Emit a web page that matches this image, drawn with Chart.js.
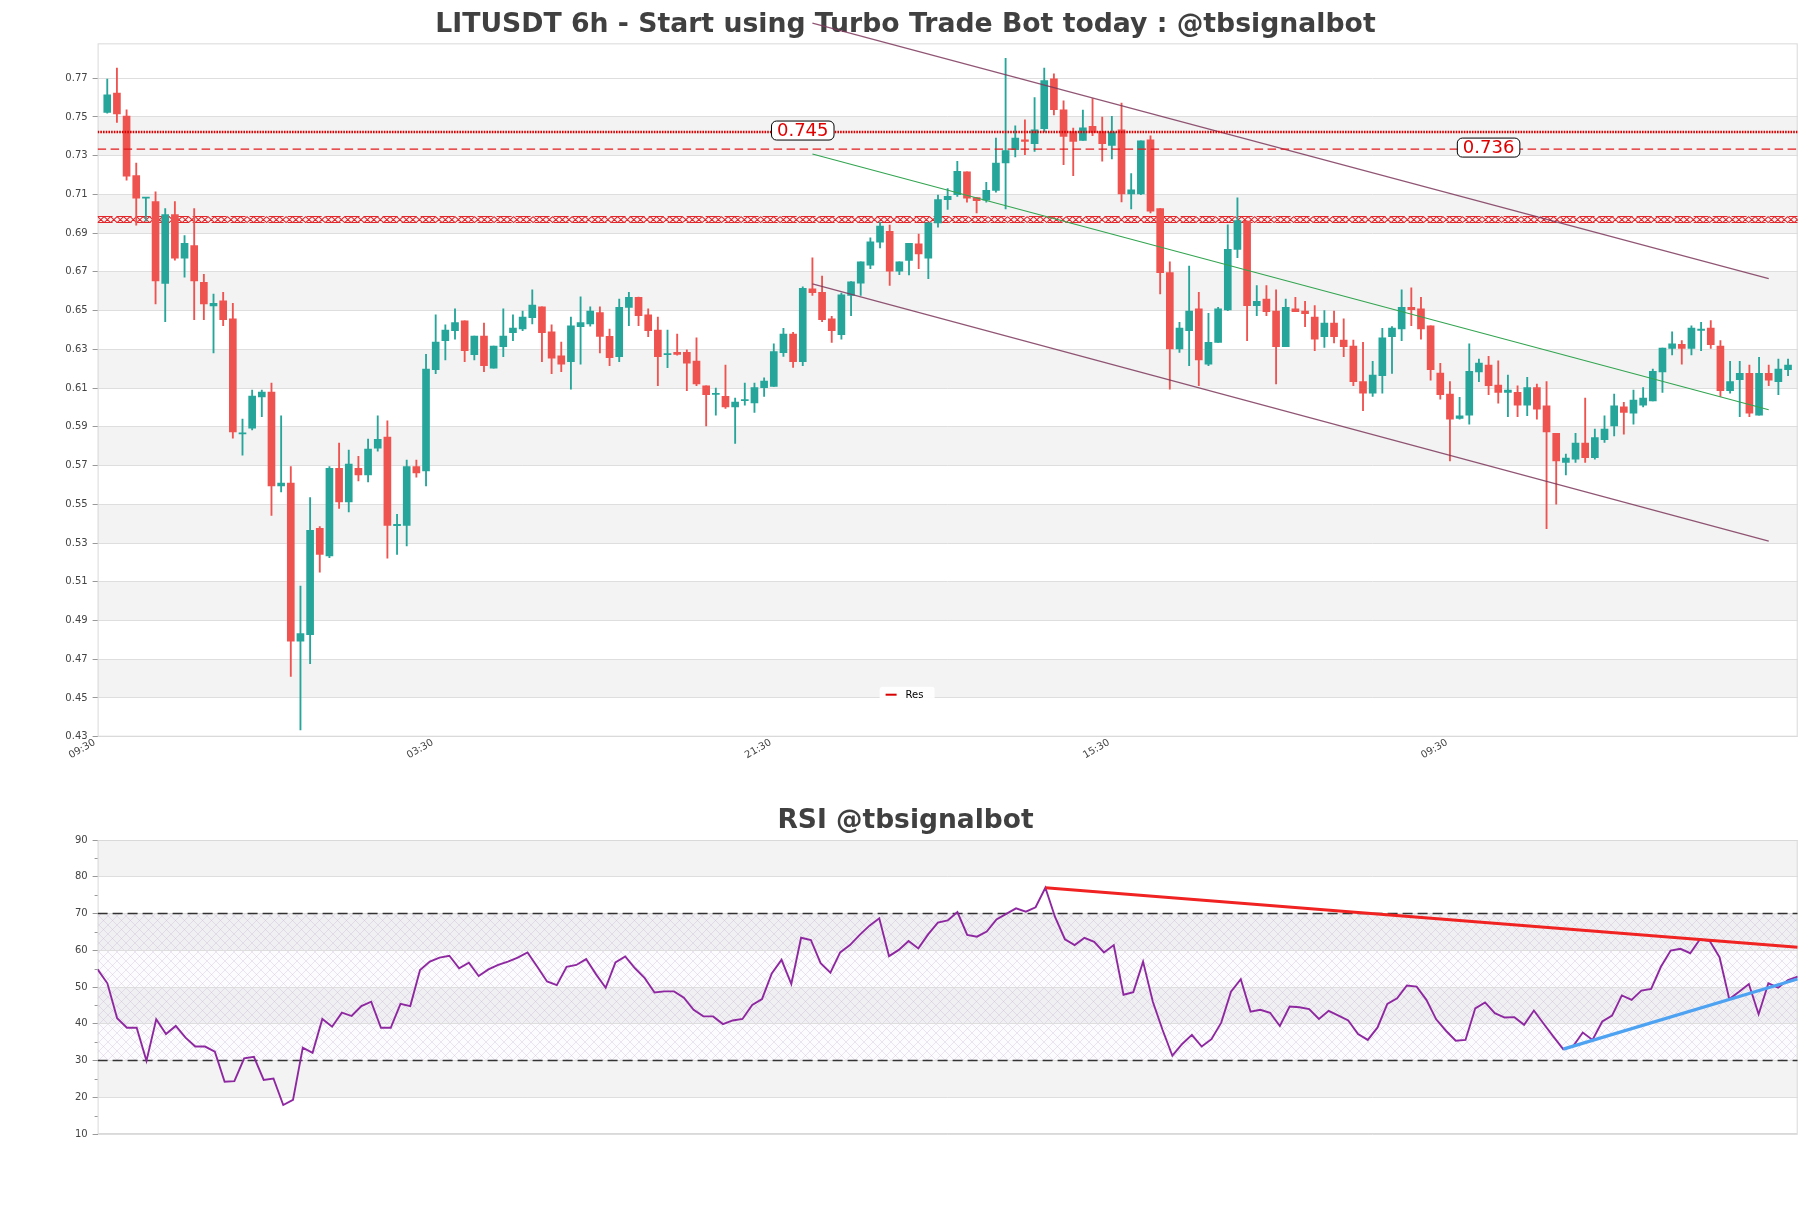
<!DOCTYPE html>
<html>
<head>
<meta charset="utf-8">
<title>LITUSDT 6h</title>
<script src="https://cdn.jsdelivr.net/npm/chart.js@4.4.1/dist/chart.umd.min.js"></script>
<style>
  html, body { margin: 0; padding: 0; background: #fff; }
  #wrap { position: relative; width: 1811px; height: 1208px; }
  #price { position: absolute; left: 0; top: 0; }
  #rsi { position: absolute; left: 0; top: 790px; }
</style>
</head>
<body>
<div id="wrap">
  <canvas id="price" width="1811" height="800"></canvas>
  <canvas id="rsi" width="1811" height="418"></canvas>
</div>
<script>
// ---- candles (6h) ----
const openPrices = [
  0.7523, 0.7623, 0.7504, 0.7197, 0.7080, 0.7063, 0.6641, 0.6996, 0.6771, 0.6836,
  0.6646, 0.6524, 0.6550, 0.6457, 0.5863, 0.5893, 0.6055, 0.6079, 0.5595, 0.5609,
  0.4793, 0.4827, 0.5376, 0.5233, 0.5686, 0.5512, 0.5686, 0.5652, 0.5790, 0.5847,
  0.5390, 0.5391, 0.5695, 0.5672, 0.6195, 0.6345, 0.6397, 0.6447, 0.6272, 0.6369,
  0.6203, 0.6314, 0.6386, 0.6405, 0.6464, 0.6519, 0.6390, 0.6266, 0.6236, 0.6417,
  0.6431, 0.6490, 0.6367, 0.6262, 0.6516, 0.6569, 0.6478, 0.6400, 0.6272, 0.6285,
  0.6285, 0.6240, 0.6112, 0.6067, 0.6057, 0.6003, 0.6035, 0.6024, 0.6102, 0.6109,
  0.6283, 0.6379, 0.6236, 0.6613, 0.6595, 0.6457, 0.6376, 0.6578, 0.6642, 0.6735,
  0.6853, 0.6910, 0.6704, 0.6759, 0.6845, 0.6771, 0.6953, 0.7073, 0.7099, 0.7216,
  0.7084, 0.7070, 0.7121, 0.7262, 0.7331, 0.7382, 0.7362, 0.7439, 0.7697, 0.7537,
  0.7425, 0.7379, 0.7451, 0.7425, 0.7353, 0.7434, 0.7102, 0.7102, 0.7382, 0.7027,
  0.6696, 0.6302, 0.6397, 0.6509, 0.6224, 0.6336, 0.6503, 0.6816, 0.6962, 0.6526,
  0.6560, 0.6497, 0.6314, 0.6509, 0.6497, 0.6466, 0.6366, 0.6436, 0.6348, 0.6317,
  0.6134, 0.6074, 0.6164, 0.6366, 0.6405, 0.6517, 0.6509, 0.6421, 0.6178, 0.6069,
  0.5943, 0.5960, 0.6184, 0.6219, 0.6116, 0.6078, 0.6078, 0.6012, 0.6103, 0.6009,
  0.5867, 0.5716, 0.5733, 0.5816, 0.5741, 0.5833, 0.5905, 0.6003, 0.5971, 0.6012,
  0.6034, 0.6184, 0.6305, 0.6326, 0.6305, 0.6398, 0.6410, 0.6317, 0.6086, 0.6143,
  0.6176, 0.5960, 0.6176, 0.6133, 0.6195
];
const highPrices = [
  0.7695, 0.7752, 0.7537, 0.7262, 0.7085, 0.7113, 0.7027, 0.7063, 0.6888, 0.7027,
  0.6687, 0.6586, 0.6595, 0.6538, 0.5940, 0.6090, 0.6090, 0.6126, 0.5957, 0.5695,
  0.5078, 0.5535, 0.5385, 0.5695, 0.5816, 0.5780, 0.5748, 0.5837, 0.5957, 0.5931,
  0.5448, 0.5728, 0.5728, 0.6274, 0.6478, 0.6426, 0.6509, 0.6447, 0.6369, 0.6436,
  0.6317, 0.6509, 0.6478, 0.6498, 0.6607, 0.6520, 0.6426, 0.6338, 0.6467, 0.6571,
  0.6520, 0.6519, 0.6405, 0.6560, 0.6595, 0.6570, 0.6509, 0.6466, 0.6400, 0.6379,
  0.6298, 0.6359, 0.6112, 0.6100, 0.6219, 0.6048, 0.6126, 0.6126, 0.6153, 0.6328,
  0.6409, 0.6388, 0.6623, 0.6773, 0.6678, 0.6470, 0.6590, 0.6650, 0.6752, 0.6876,
  0.6957, 0.6941, 0.6752, 0.6847, 0.6895, 0.6953, 0.7096, 0.7130, 0.7271, 0.7216,
  0.7084, 0.7163, 0.7391, 0.7803, 0.7454, 0.7485, 0.7600, 0.7752, 0.7722, 0.7583,
  0.7442, 0.7535, 0.7595, 0.7499, 0.7503, 0.7571, 0.7207, 0.7377, 0.7403, 0.7027,
  0.6752, 0.6440, 0.6730, 0.6595, 0.6486, 0.6517, 0.6943, 0.7082, 0.6962, 0.6629,
  0.6629, 0.6607, 0.6560, 0.6569, 0.6548, 0.6526, 0.6500, 0.6497, 0.6457, 0.6348,
  0.6336, 0.6238, 0.6409, 0.6417, 0.6607, 0.6617, 0.6569, 0.6421, 0.6228, 0.6134,
  0.6052, 0.6328, 0.6250, 0.6264, 0.6241, 0.6167, 0.6112, 0.6155, 0.6121, 0.6134,
  0.5867, 0.5759, 0.5867, 0.6048, 0.5888, 0.5957, 0.6069, 0.6026, 0.6090, 0.6103,
  0.6198, 0.6307, 0.6391, 0.6345, 0.6422, 0.6440, 0.6448, 0.6345, 0.6238, 0.6238,
  0.6219, 0.6259, 0.6219, 0.6250, 0.6250
];
const lowPrices = [
  0.7520, 0.7472, 0.7173, 0.6941, 0.6962, 0.6534, 0.6443, 0.6760, 0.6673, 0.6453,
  0.6453, 0.6281, 0.6422, 0.5841, 0.5754, 0.5884, 0.5952, 0.5443, 0.5564, 0.4611,
  0.4335, 0.4677, 0.5150, 0.5224, 0.5479, 0.5460, 0.5621, 0.5616, 0.5774, 0.5222,
  0.5241, 0.5285, 0.5640, 0.5595, 0.6174, 0.6245, 0.6353, 0.6236, 0.6245, 0.6185,
  0.6203, 0.6262, 0.6345, 0.6397, 0.6431, 0.6236, 0.6174, 0.6185, 0.6095, 0.6224,
  0.6420, 0.6281, 0.6216, 0.6236, 0.6422, 0.6422, 0.6366, 0.6112, 0.6205, 0.6270,
  0.6086, 0.6112, 0.5905, 0.5960, 0.5995, 0.5814, 0.6012, 0.5974, 0.6057, 0.6109,
  0.6264, 0.6207, 0.6216, 0.6578, 0.6443, 0.6336, 0.6353, 0.6474, 0.6578, 0.6716,
  0.6824, 0.6630, 0.6685, 0.6684, 0.6716, 0.6665, 0.6931, 0.7022, 0.7090, 0.7060,
  0.7005, 0.7060, 0.7111, 0.7025, 0.7293, 0.7305, 0.7322, 0.7422, 0.7511, 0.7254,
  0.7197, 0.7379, 0.7403, 0.7271, 0.7283, 0.7061, 0.7025, 0.7099, 0.7005, 0.6586,
  0.6095, 0.6284, 0.6216, 0.6112, 0.6216, 0.6336, 0.6500, 0.6773, 0.6345, 0.6474,
  0.6474, 0.6121, 0.6314, 0.6495, 0.6417, 0.6293, 0.6310, 0.6333, 0.6262, 0.6112,
  0.5983, 0.6057, 0.6074, 0.6176, 0.6345, 0.6422, 0.6353, 0.6141, 0.6043, 0.5724,
  0.5940, 0.5914, 0.6133, 0.6066, 0.6022, 0.5952, 0.5952, 0.5957, 0.5940, 0.5374,
  0.5500, 0.5652, 0.5716, 0.5716, 0.5733, 0.5819, 0.5853, 0.5862, 0.5914, 0.6003,
  0.6034, 0.6078, 0.6271, 0.6224, 0.6271, 0.6293, 0.6305, 0.6057, 0.6074, 0.5953,
  0.5953, 0.5960, 0.6112, 0.6066, 0.6164
];
const closePrices = [
  0.7614, 0.7515, 0.7194, 0.7080, 0.7083, 0.6653, 0.6996, 0.6771, 0.6847, 0.6653,
  0.6534, 0.6538, 0.6453, 0.5874, 0.5868, 0.6059, 0.6079, 0.5595, 0.5609, 0.4793,
  0.4832, 0.5366, 0.5241, 0.5686, 0.5512, 0.5707, 0.5652, 0.5785, 0.5836, 0.5391,
  0.5393, 0.5695, 0.5662, 0.6198, 0.6338, 0.6400, 0.6438, 0.6293, 0.6369, 0.6216,
  0.6317, 0.6369, 0.6410, 0.6467, 0.6529, 0.6386, 0.6255, 0.6224, 0.6421, 0.6438,
  0.6498, 0.6367, 0.6257, 0.6517, 0.6569, 0.6474, 0.6397, 0.6262, 0.6276, 0.6274,
  0.6228, 0.6121, 0.6066, 0.6069, 0.6003, 0.6028, 0.6037, 0.6103, 0.6136, 0.6288,
  0.6379, 0.6236, 0.6615, 0.6593, 0.6453, 0.6397, 0.6581, 0.6648, 0.6752, 0.6855,
  0.6936, 0.6704, 0.6752, 0.6847, 0.6793, 0.6953, 0.7073, 0.7090, 0.7219, 0.7080,
  0.7068, 0.7121, 0.7262, 0.7326, 0.7391, 0.7374, 0.7434, 0.7688, 0.7537, 0.7400,
  0.7374, 0.7444, 0.7420, 0.7362, 0.7422, 0.7102, 0.7123, 0.7377, 0.7013, 0.6696,
  0.6302, 0.6410, 0.6497, 0.6245, 0.6336, 0.6509, 0.6816, 0.6965, 0.6526, 0.6548,
  0.6495, 0.6314, 0.6517, 0.6495, 0.6484, 0.6353, 0.6436, 0.6366, 0.6314, 0.6133,
  0.6074, 0.6167, 0.6359, 0.6410, 0.6517, 0.6505, 0.6405, 0.6195, 0.6066, 0.5940,
  0.5957, 0.6186, 0.6229, 0.6112, 0.6078, 0.6090, 0.6012, 0.6103, 0.5991, 0.5874,
  0.5724, 0.5738, 0.5816, 0.5741, 0.5845, 0.5888, 0.6009, 0.5974, 0.6038, 0.6048,
  0.6186, 0.6307, 0.6328, 0.6305, 0.6410, 0.6402, 0.6324, 0.6086, 0.6134, 0.6176,
  0.5971, 0.6176, 0.6141, 0.6198, 0.6219
];

// ---- RSI ----
const rsiValues = [
  54.8, 51.0, 41.5, 38.9, 38.9, 29.9, 41.2, 37.2, 39.4, 36.2,
  33.8, 33.8, 32.4, 24.2, 24.4, 30.6, 31.0, 24.7, 25.1, 17.9,
  19.3, 33.5, 32.1, 41.3, 39.2, 43.0, 42.1, 44.8, 46.0, 38.9,
  38.9, 45.4, 44.8, 54.6, 56.9, 58.0, 58.5, 55.1, 56.6, 53.0,
  54.8, 56.0, 56.9, 58.0, 59.4, 55.5, 51.5, 50.5, 55.5, 56.0,
  57.6, 53.5, 49.8, 56.7, 58.3, 55.1, 52.4, 48.5, 48.8, 48.8,
  47.1, 43.8, 42.0, 42.0, 39.9, 40.9, 41.3, 45.1, 46.7, 53.7,
  57.4, 50.8, 63.4, 62.8, 56.5, 53.9, 59.4, 61.4, 64.2, 66.7,
  68.7, 58.4, 60.1, 62.5, 60.5, 64.3, 67.5, 68.1, 70.4, 64.2,
  63.7, 65.1, 68.4, 69.9, 71.4, 70.5, 71.7, 77.0, 69.0, 63.0,
  61.4, 63.4, 62.3, 59.4, 61.4, 47.9, 48.6, 56.9, 46.0, 38.3,
  31.3, 34.5, 37.0, 33.8, 35.8, 40.3, 48.7, 52.1, 43.3, 43.8,
  43.0, 39.4, 44.7, 44.5, 44.0, 41.3, 43.5, 42.2, 40.9, 37.2,
  35.6, 39.0, 45.4, 46.9, 50.4, 50.1, 46.5, 41.2, 38.1, 35.4,
  35.6, 44.2, 45.8, 42.9, 41.7, 41.8, 39.7, 43.6, 40.0, 36.5,
  33.1, 33.8, 37.6, 35.6, 40.6, 42.2, 47.7, 46.5, 49.0, 49.5,
  55.5, 59.9, 60.4, 59.2, 63.0, 62.5, 58.1, 46.7, 48.7, 50.8,
  42.6, 51.0, 49.8, 51.9, 52.8
];

// ---- axes ----
const priceTicks = [0.43, 0.45, 0.47, 0.49, 0.51, 0.53, 0.55, 0.57, 0.59, 0.61,
                    0.63, 0.65, 0.67, 0.69, 0.71, 0.73, 0.75, 0.77];
const rsiTicks = [10, 20, 30, 40, 50, 60, 70, 80, 90];
const timeTickIndex = [-1, 34, 69, 104, 139];
const timeTickLabels = ['09:30', '03:30', '21:30', '15:30', '09:30'];

// ---- levels and trend lines ([candle index, value]) ----
const resLevel = 0.7422, resText = '0.745';
const supLevel = 0.7334, supText = '0.736';
const zoneLevel = 0.697;
const channelTop = [[73, 0.7984], [172, 0.6665]];
const channelBottom = [[73, 0.6638], [172, 0.5310]];
const channelMid = [[73, 0.7309], [172, 0.5988]];
const rsiOverbought = 70, rsiOversold = 30;
const rsiFallingLine = [[97, 77.0], [174, 60.8]];
const rsiRisingLine = [[150, 33.1], [174, 52.2]];

const N = closePrices.length;
const idx = closePrices.map((_, i) => i);
const UP = '#26a69a', DOWN = '#ef5350';
const candleColors = idx.map(i => closePrices[i] >= openPrices[i] ? UP : DOWN);
const FONT = "'DejaVu Sans', 'Liberation Sans', sans-serif";
const toPoints = pairs => pairs.map(p => ({ x: p[0], y: p[1] }));

// grey bands between every other gridline
function drawBands(chart, ticks) {
  const { ctx, chartArea: ca, scales: { y } } = chart;
  ctx.save();
  ctx.fillStyle = '#f3f3f3';
  for (let i = 1; i < ticks.length - 1; i += 2) {
    const top = y.getPixelForValue(ticks[i + 1]);
    const bot = y.getPixelForValue(ticks[i]);
    ctx.fillRect(ca.left, top, ca.right - ca.left, bot - top);
  }
  ctx.restore();
}

function drawFrame(chart) {
  const { ctx, chartArea: ca } = chart;
  ctx.save();
  ctx.strokeStyle = '#d9d9d9';
  ctx.lineWidth = 1;
  ctx.strokeRect(ca.left + 0.5, ca.top + 0.5, ca.right - ca.left - 1, ca.bottom - ca.top - 1);
  ctx.restore();
}

// red hatched zone line
function drawZone(chart, level) {
  const { ctx, chartArea: ca, scales: { y } } = chart;
  const yc = y.getPixelForValue(level), h = 3, step = 6.5;
  ctx.save();
  ctx.beginPath();
  ctx.rect(ca.left, ca.top, ca.right - ca.left, ca.bottom - ca.top);
  ctx.clip();
  ctx.strokeStyle = '#e3262a';
  ctx.lineWidth = 1.05;
  ctx.beginPath();
  for (let x = ca.left; x < ca.right; x += step) {
    ctx.moveTo(x, yc - h); ctx.lineTo(x + step, yc + h);
    ctx.moveTo(x, yc + h); ctx.lineTo(x + step, yc - h);
  }
  ctx.stroke();
  ctx.setLineDash([15, 4]);
  ctx.beginPath();
  ctx.moveTo(ca.left, yc - h); ctx.lineTo(ca.right, yc - h);
  ctx.moveTo(ca.left, yc + h); ctx.lineTo(ca.right, yc + h);
  ctx.stroke();
  ctx.restore();
}

function drawTag(chart, xVal, level, text) {
  const { ctx, scales: { x, y } } = chart;
  const cx = x.getPixelForValue(xVal), cy = y.getPixelForValue(level) - 1.5;
  ctx.save();
  ctx.font = '18px ' + FONT;
  const w = ctx.measureText(text).width + 11, h = 19;
  ctx.beginPath();
  ctx.roundRect(cx - w / 2, cy - h / 2, w, h, 5);
  ctx.fillStyle = '#fff';
  ctx.fill();
  ctx.strokeStyle = '#000';
  ctx.lineWidth = 1;
  ctx.stroke();
  ctx.fillStyle = '#e00000';
  ctx.textAlign = 'center';
  ctx.textBaseline = 'middle';
  ctx.fillText(text, cx, cy + 1);
  ctx.restore();
}

function drawLegend(chart) {
  const { ctx, chartArea: ca } = chart;
  const ds = chart.data.datasets.find(d => d.showInLegend);
  const lx = ca.left + 782, ly = ca.bottom - 50;
  ctx.save();
  ctx.fillStyle = 'rgba(255,255,255,0.9)';
  ctx.beginPath();
  ctx.roundRect(lx, ly, 55, 16, 3);
  ctx.fill();
  ctx.strokeStyle = ds.borderColor;
  ctx.lineWidth = 2;
  ctx.beginPath();
  ctx.moveTo(lx + 6, ly + 8); ctx.lineTo(lx + 17, ly + 8);
  ctx.stroke();
  ctx.fillStyle = '#000';
  ctx.font = '10px ' + FONT;
  ctx.textBaseline = 'middle';
  ctx.fillText(ds.label, lx + 26, ly + 8.5);
  ctx.restore();
}

const priceDecor = {
  id: 'priceDecor',
  beforeDraw(chart) { drawBands(chart, priceTicks); },
  beforeDatasetsDraw(chart) { drawFrame(chart); drawZone(chart, zoneLevel); },
  afterDatasetsDraw(chart) {
    drawTag(chart, 72, resLevel, resText);
    drawTag(chart, 143, supLevel, supText);
    drawLegend(chart);
  }
};

function hatchPattern(ctx) {
  const c = document.createElement('canvas');
  c.width = c.height = 9;
  const g = c.getContext('2d');
  g.strokeStyle = 'rgba(175,145,195,0.28)';
  g.lineWidth = 0.8;
  g.beginPath();
  g.moveTo(0, 0); g.lineTo(9, 9);
  g.moveTo(9, 0); g.lineTo(0, 9);
  g.stroke();
  return ctx.createPattern(c, 'repeat');
}

const rsiDecor = {
  id: 'rsiDecor',
  beforeDraw(chart) {
    drawBands(chart, rsiTicks);
    const { ctx, chartArea: ca, scales: { y } } = chart;
    const top = y.getPixelForValue(rsiOverbought), bot = y.getPixelForValue(rsiOversold);
    ctx.save();
    ctx.fillStyle = 'rgba(200,180,220,0.05)';
    ctx.fillRect(ca.left, top, ca.right - ca.left, bot - top);
    ctx.fillStyle = hatchPattern(ctx);
    ctx.fillRect(ca.left, top, ca.right - ca.left, bot - top);
    ctx.restore();
  },
  beforeDatasetsDraw(chart) {
    drawFrame(chart);
    // minor ticks
    const { ctx, chartArea: ca, scales: { y } } = chart;
    ctx.save();
    ctx.strokeStyle = '#999';
    ctx.lineWidth = 1;
    ctx.beginPath();
    for (let i = 0; i < rsiTicks.length - 1; i++) {
      const py = Math.round(y.getPixelForValue((rsiTicks[i] + rsiTicks[i + 1]) / 2)) + 0.5;
      ctx.moveTo(ca.left - 3, py); ctx.lineTo(ca.left, py);
    }
    ctx.stroke();
    ctx.restore();
  }
};

const tickFont = { family: FONT, size: 10 };

new Chart(document.getElementById('price'), {
  type: 'bar',
  data: {
    datasets: [
      {
        label: 'wick',
        data: idx.map(i => ({ x: i, y: [lowPrices[i], highPrices[i]] })),
        backgroundColor: candleColors,
        barThickness: 1.2,
        grouped: false,
        order: 6
      },
      {
        label: 'body',
        data: idx.map(i => ({ x: i, y: [openPrices[i], closePrices[i]] })),
        backgroundColor: candleColors,
        barThickness: 7,
        minBarLength: 1.2,
        grouped: false,
        order: 5
      },
      {
        type: 'line', label: 'Res', showInLegend: true,
        data: [{ x: -1, y: resLevel }, { x: N, y: resLevel }],
        borderColor: '#d80000', borderWidth: 2.4, borderDash: [1.6, 1.1],
        pointRadius: 0, order: 1
      },
      {
        type: 'line', label: 'Sup',
        data: [{ x: -1, y: supLevel }, { x: N, y: supLevel }],
        borderColor: '#e31a1c', borderWidth: 1.4, borderDash: [8.5, 4.5],
        pointRadius: 0, order: 1
      },
      {
        type: 'line', label: 'channel top', data: toPoints(channelTop),
        borderColor: 'rgba(125,55,90,0.85)', borderWidth: 1.2,
        pointRadius: 0, clip: false, order: 2
      },
      {
        type: 'line', label: 'channel bottom', data: toPoints(channelBottom),
        borderColor: 'rgba(125,55,90,0.85)', borderWidth: 1.2,
        pointRadius: 0, order: 2
      },
      {
        type: 'line', label: 'channel mid', data: toPoints(channelMid),
        borderColor: 'rgb(50,165,80)', borderWidth: 1.1,
        pointRadius: 0, order: 2
      }
    ]
  },
  options: {
    responsive: false,
    animation: false,
    events: [],
    layout: { padding: { left: 13.3, right: 13.3, top: 0, bottom: 0 } },
    plugins: {
      legend: { display: false },
      tooltip: { enabled: false },
      title: {
        display: true,
        text: 'LITUSDT 6h - Start using Turbo Trade Bot today : @tbsignalbot',
        color: '#404040',
        font: { family: FONT, size: 26.7, weight: 'bold' },
        padding: { top: 9.3, bottom: 2.0 }
      }
    },
    scales: {
      x: {
        type: 'linear', min: -1, max: N, offset: false,
        grid: { display: false, offset: false },
        border: { display: false },
        afterBuildTicks(scale) { scale.ticks = timeTickIndex.map(v => ({ value: v })); },
        afterFit(scale) { scale.height = 63.3; },
        ticks: {
          autoSkip: false, minRotation: 30, maxRotation: 30, padding: -8, labelOffset: -3,
          font: tickFont, color: '#444',
          callback(v) { const k = timeTickIndex.indexOf(v); return k >= 0 ? timeTickLabels[k] : ''; }
        }
      },
      y: {
        min: 0.43, max: 0.788,
        grid: { color: '#dedede', tickColor: '#999', tickLength: 5 },
        border: { display: false },
        afterBuildTicks(scale) { scale.ticks = priceTicks.map(v => ({ value: v })); },
        afterFit(scale) { scale.width = 84.3; },
        ticks: { font: tickFont, color: '#444', padding: 5, callback: v => v.toFixed(2) }
      }
    }
  },
  plugins: [priceDecor]
});

new Chart(document.getElementById('rsi'), {
  type: 'line',
  data: {
    datasets: [
      {
        label: 'RSI', data: idx.map(i => ({ x: i, y: rsiValues[i] })),
        borderColor: 'rgb(142,40,160)', borderWidth: 1.9, pointRadius: 0, tension: 0, order: 3
      },
      {
        label: 'overbought', data: [{ x: 0, y: rsiOverbought }, { x: N - 1, y: rsiOverbought }],
        borderColor: '#333', borderWidth: 1.3, borderDash: [10, 5], pointRadius: 0, order: 4
      },
      {
        label: 'oversold', data: [{ x: 0, y: rsiOversold }, { x: N - 1, y: rsiOversold }],
        borderColor: '#333', borderWidth: 1.3, borderDash: [10, 5], pointRadius: 0, order: 4
      },
      {
        label: 'falling', data: toPoints(rsiFallingLine),
        borderColor: '#f02222', borderWidth: 3, pointRadius: 0, order: 1
      },
      {
        label: 'rising', data: toPoints(rsiRisingLine),
        borderColor: '#4ea2f2', borderWidth: 3.2, pointRadius: 0, order: 1
      }
    ]
  },
  options: {
    responsive: false,
    animation: false,
    events: [],
    layout: { padding: { left: 13.3, right: 13.3, top: 0, bottom: 74 } },
    plugins: {
      legend: { display: false },
      tooltip: { enabled: false },
      title: {
        display: true,
        text: 'RSI @tbsignalbot',
        color: '#404040',
        font: { family: FONT, size: 26.5, weight: 'bold' },
        padding: { top: 15, bottom: 3.2 }
      }
    },
    scales: {
      x: { type: 'linear', min: 0, max: N - 1, display: false },
      y: {
        min: 10, max: 90,
        grid: { color: '#dedede', tickColor: '#999', tickLength: 5 },
        border: { display: false },
        afterBuildTicks(scale) { scale.ticks = rsiTicks.map(v => ({ value: v })); },
        afterFit(scale) { scale.width = 84.3; },
        ticks: { font: tickFont, color: '#444', padding: 5 }
      }
    }
  },
  plugins: [rsiDecor]
});
</script>
</body>
</html>
